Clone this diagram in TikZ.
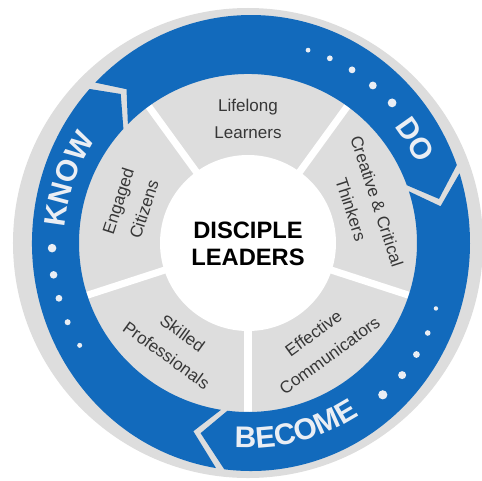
\documentclass[tikz,border=0pt]{standalone}
\usepackage{fontspec}
\setmainfont{Liberation Sans}
\usetikzlibrary{decorations.text}
\definecolor{bandblue}{RGB}{18,106,188}
\definecolor{diskgray}{RGB}{221,221,221}
\definecolor{labelgray}{RGB}{55,55,55}
\definecolor{bigtext}{RGB}{234,238,244}
\newcommand{\bigwordfont}{\fontsize{17}{20}\selectfont\bfseries}
% #1 tail corner angle, #2 head corner angle (clockwise, #2 < #1)
\newcommand{\bandarrow}[2]{%
  \fill[bandblue] ([shift={(3,0)}]#1:219 and 228)
    arc[start angle=#1, end angle=#2, x radius=219, y radius=228]
    -- ({#2-7}:196) -- (#2:169)
    arc[start angle=#2, end angle=#1, radius=169]
    -- ({#1-7}:196) -- cycle;}
\begin{document}
\begin{tikzpicture}[x=0.02cm, y=0.02cm,
  seglabel/.style={font=\fontsize{9.7}{15.5}\selectfont, text=labelgray, align=center, inner sep=0pt},
  coretext/.style={font=\fontsize{13.5}{15.3}\selectfont\bfseries, text=black, align=center, inner sep=0pt},
  spoke/.style={white, line width=4pt},
  bigdot/.style={fill=bigtext}]
\useasboundingbox (-248,-237) rectangle (234,243);
% background disk
\fill[diskgray] (0,0) circle[radius=235];
% spokes between segments
\foreach \a in {-90,-18,54,126,198}
  \draw[spoke] (\a:80) -- (\a:185);
% hub
\fill[white] (0,0) circle[radius=88];
% arrows
\bandarrow{260.8}{137.5}
\bandarrow{135.3}{20}
\bandarrow{17.8}{-97}
% big words
\path[decorate, decoration={text along path, text={|\bigwordfont|KNOW}, text align=center, text color=bigtext}]
  (200:184) arc[start angle=200, end angle=121, radius=184];
\path[decorate, decoration={text along path, text={|\bigwordfont|DO}, text align=center, text color=bigtext}]
  (60:187) arc[start angle=60, end angle=3.4, radius=187];
\path[decorate, decoration={text along path, text={|\bigwordfont|BECOME}, text align=center, text color=bigtext}]
  (-105:205) arc[start angle=-105, end angle=-45.8, radius=205];
% dots
\foreach \a/\r/\s in {181.5/196/4.3, 189.3/197/3.8, 196.3/197/3.4, 203.7/197/3.0, 211.3/197/2.5}
  \fill[bigdot] (\a:\r) circle[radius=\s];
\foreach \a/\r/\s in {72.7/202/2.4, 66.1/202/2.9, 59/202/3.4, 51.6/201/3.9, 44.2/201/4.4}
  \fill[bigdot] (\a:\r) circle[radius=\s];
\foreach \a/\r/\s in {-19.2/199/2.2, -26.6/201/2.8, -33.5/202/3.4, -40.6/203/4.0, -48.4/203/4.6}
  \fill[bigdot] (\a:\r) circle[radius=\s];
% segment labels
\node[seglabel] (lifelong) at (90:124) {Lifelong\\Learners};
\node[seglabel, rotate=-72] (creative) at (18:122) {Creative \& Critical\\Thinkers};
\node[seglabel, rotate=36] (effective) at (-54:125) {Effective\\Communicators};
\node[seglabel, rotate=-36] (skilled) at (-126:125) {Skilled\\Professionals};
\node[seglabel, rotate=72] (engaged) at (162:123) {Engaged\\Citizens};
% centre
\node[coretext] (core) at (0,-0.5) {DISCIPLE\\LEADERS};
\end{tikzpicture}
\end{document}
